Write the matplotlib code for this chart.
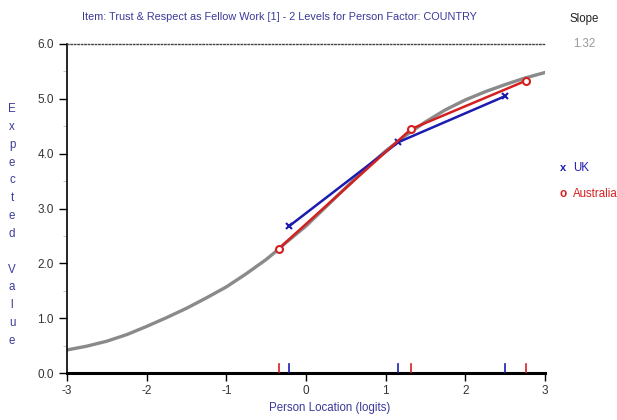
import matplotlib
matplotlib.use('Agg')
import matplotlib.pyplot as plt
from matplotlib import font_manager

curve_x = [-3.0, -2.75, -2.5, -2.25, -2.0, -1.75, -1.5, -1.25, -1.0, -0.75, -0.5, -0.35,
           -0.25, 0.0, 0.25, 0.5, 0.75, 1.0, 1.25, 1.5, 1.75, 2.0, 2.25, 2.5, 2.75, 3.0]
curve_y = [0.42, 0.49, 0.58, 0.70, 0.85, 1.01, 1.18, 1.37, 1.57, 1.81, 2.07, 2.25,
           2.38, 2.68, 3.03, 3.38, 3.73, 4.05, 4.33, 4.58, 4.80, 4.98, 5.13, 5.26, 5.38, 5.48]

# observed class means per country
uk_x = [-0.21, 1.16, 2.50]
uk_y = [2.68, 4.21, 5.05]
aus_x = [-0.34, 1.32, 2.76]
aus_y = [2.27, 4.45, 5.33]

slope = 1.32
title = 'Item: Trust & Respect as Fellow Work [1] - 2 Levels for Person Factor: COUNTRY'

names = {f.name for f in font_manager.fontManager.ttflist}
narrow = 'Liberation Sans Narrow' if 'Liberation Sans Narrow' in names else 'Liberation Sans'
plt.rcParams['font.family'] = [narrow, 'DejaVu Sans']

BLUE = '#1c1cb0'
RED = '#d42020'
TXT_BLUE = '#3a3a9a'
FS = 8.3

fig = plt.figure(figsize=(6.17, 4.2), dpi=100)
ax = fig.add_axes([67 / 617, 47 / 420, 478 / 617, 329 / 420])

ax.plot(curve_x, curve_y, color='#8a8a8a', lw=2.4, solid_capstyle='round', zorder=2)
ax.plot(uk_x, uk_y, color=BLUE, lw=1.8, marker='x', ms=4, mew=1.5, zorder=3)
ax.plot(aus_x, aus_y, color=RED, lw=1.8, marker='o', ms=5, mfc='white', mew=1.5, zorder=4)

# location ticks along the bottom axis
for x in uk_x:
    ax.plot([x, x], [0, 0.17], color=BLUE, lw=1.2, zorder=3)
for x in aus_x:
    ax.plot([x, x], [0, 0.17], color=RED, lw=1.2, zorder=3)

ax.set_xlim(-3, 3)
ax.set_ylim(0, 6)
ax.set_xticks(range(-3, 4))
ax.set_xticklabels([str(v) for v in range(-3, 4)])
ax.set_yticks([0, 1, 2, 3, 4, 5, 6])
ax.set_yticklabels(['%.1f' % v for v in range(7)])
ax.set_yticks([0.5, 1.5, 2.5, 3.5, 4.5, 5.5], minor=True)
ax.tick_params(axis='both', which='major', length=6, width=1, labelsize=8.5,
               labelcolor='#333333', color='black')
ax.tick_params(axis='y', which='minor', length=3, width=0.6, color='#bbbbbb')
ax.tick_params(axis='x', pad=3)

ax.spines['right'].set_visible(False)
ax.spines['top'].set_linestyle((0, (1, 1.5)))
ax.spines['top'].set_linewidth(1)
ax.spines['top'].set_color('#444444')
ax.spines['left'].set_linewidth(1.2)
ax.spines['bottom'].set_linewidth(2.2)

fig.text(279 / 617, 1 - 17 / 420, title, ha='center', va='center',
         fontsize=7.8, color=TXT_BLUE)
fig.text(584 / 617, 1 - 19 / 420, 'Slope', ha='center', va='center',
         fontsize=FS, color='#222222')
fig.text(584 / 617, 1 - 44 / 420, '%.2f' % slope, ha='center', va='center',
         fontsize=FS, color='#999999')

fig.text(330 / 617, 1 - 408 / 420, 'Person Location (logits)', ha='center', va='center',
         fontsize=FS, color=TXT_BLUE)
fig.text(12 / 617, 1 - 225 / 420, '\n'.join('Expected Value'), ha='center', va='center',
         fontsize=FS, color=TXT_BLUE, linespacing=1.65)

# legend entries at the right
fig.text(563 / 617, 1 - 168 / 420, 'x', ha='center', va='center', fontsize=8,
         color=BLUE, fontweight='bold')
fig.text(573 / 617, 1 - 168 / 420, 'UK', ha='left', va='center', fontsize=FS, color=BLUE)
fig.text(563 / 617, 1 - 194 / 420, 'o', ha='center', va='center', fontsize=8.5,
         color=RED, fontweight='bold')
fig.text(573 / 617, 1 - 194 / 420, 'Australia', ha='left', va='center', fontsize=FS, color=RED)

fig.savefig('out.png', dpi=100)
